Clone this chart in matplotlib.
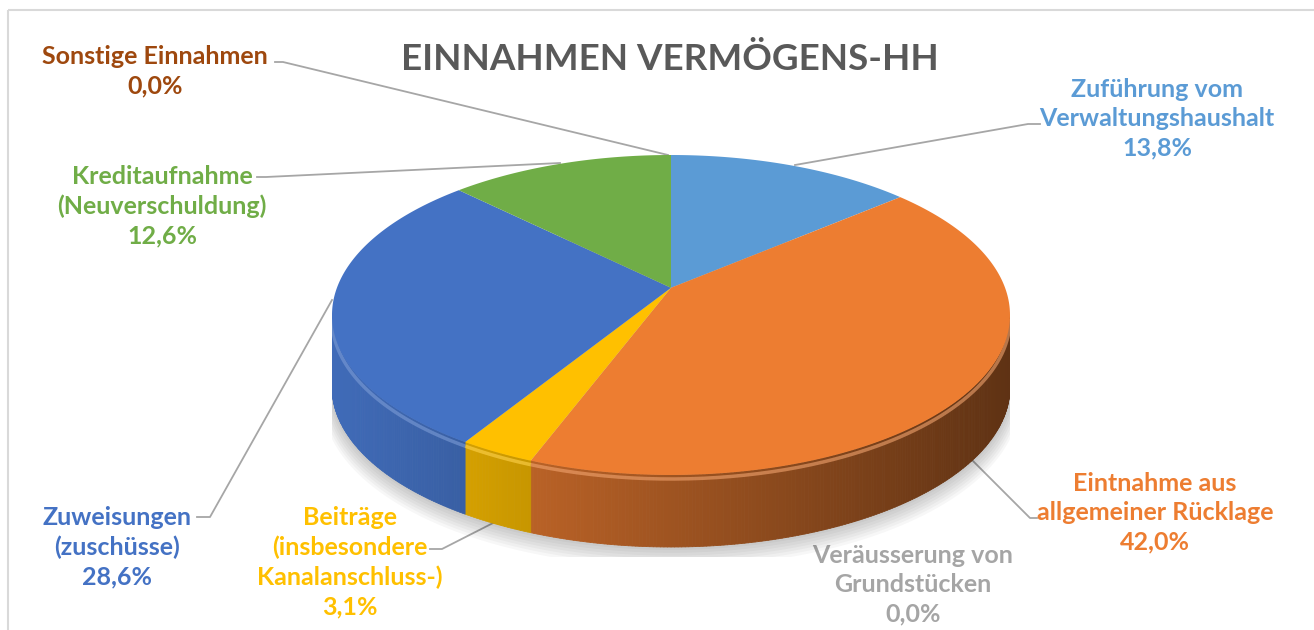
import matplotlib.pyplot as plt
import matplotlib.colors as mcolors
import numpy as np
from matplotlib.collections import PolyCollection
from matplotlib.patches import Rectangle

plt.rcParams['font.family'] = ['Lato', 'DejaVu Sans']

# data (percent of total)
categories = ["Zuführung vom\nVerwaltungshaushalt",
              "Eintnahme aus\nallgemeiner Rücklage",
              "Veräusserung von\nGrundstücken",
              "Beiträge\n(insbesondere\nKanalanschluss-)",
              "Zuweisungen\n(zuschüsse)",
              "Kreditaufnahme\n(Neuverschuldung)",
              "Sonstige Einnahmen"]
values = [13.8, 42.0, 0.0, 3.1, 28.6, 12.6, 0.0]
colors = ["#5B9BD5", "#ED7D31", "#A5A5A5", "#FFC000", "#4472C4", "#70AD47", "#9E480E"]

W, H = 1314, 630
fig = plt.figure(figsize=(W / 100, H / 100), dpi=100)
bg = fig.add_axes([0, 0, 1, 1])
bg.set_xlim(0, W)
bg.set_ylim(H, 0)
bg.axis('off')
bg.add_patch(Rectangle((8, 10), 1320, 640, fill=False, ec='#D9D9D9', lw=1.5))

# pie geometry in pixels: centre, radii, thickness; c = perspective tilt
cx, cy, rx, ry, depth = 671, 315, 339, 160, 72
c = 0.17
d = depth / ry
ax = fig.add_axes([(cx - rx) / W, (H - (cy + ry + depth + 10)) / H, 2 * rx / W, (2 * ry + depth + 10) / H])
ax.set_xlim(-1, 1)
ax.set_ylim(-1 - d - 10 / ry, 1)
ax.axis('off')


def proj(theta):
    # unit circle seen in perspective: centre of pie moves back, circle stays round
    x, y = np.cos(theta), np.sin(theta)
    den = 1 + c * y
    return x * np.sqrt(1 - c * c) / den, (y + c) / den


vals = np.array(values)
bounds = 90 - 360 * np.concatenate([[0], np.cumsum(vals) / vals.sum()])

# soft shadow under the pie
tt = np.linspace(0, 2 * np.pi, 200)
for k in range(1, 8):
    ax.fill(np.cos(tt) * (1 + 0.004 * k), np.sin(tt) * (1 + 0.006 * k) - d - 0.012 * k,
            color='k', alpha=0.03, lw=0, zorder=0)

# side of the pie, darker to the right
alpha = np.degrees(np.arcsin(c))
polys, fcs, rims = [], [], []
for i, col in enumerate(colors):
    lo, hi = max(bounds[i + 1], -180 + alpha), min(bounds[i], -alpha)
    if hi <= lo:
        continue
    t = np.radians(np.linspace(hi, lo, max(int((hi - lo) * 2), 2)))
    px, py = proj(t)
    base = np.array(mcolors.to_rgb(col))
    for j in range(len(t) - 1):
        polys.append([(px[j], py[j]), (px[j + 1], py[j + 1]),
                      (px[j + 1], py[j + 1] - d), (px[j], py[j] - d)])
        f = 0.67 - 0.27 * (px[j] + px[j + 1]) / 2
        fcs.append(np.clip(base * f, 0, 1))
    rims.append((px, py, base + (1 - base) * 0.3))
ax.add_collection(PolyCollection(polys, facecolors=fcs, edgecolors=fcs, linewidths=0.6, zorder=1))
for px, py, rc in rims:
    ax.plot(px, py - 0.025, color=rc, lw=2.5, alpha=0.6, zorder=1.5, solid_capstyle='butt')

# top face
apex = proj(np.array([0.0]))
for i, col in enumerate(colors):
    if values[i] == 0:
        continue
    t = np.radians(np.linspace(bounds[i], bounds[i + 1], 200))
    px, py = proj(t)
    ax.fill(np.concatenate([[0], px]), np.concatenate([[c], py]), color=col, lw=0, zorder=2)

# title
bg.text(670, 60, "EINNAHMEN VERMÖGENS-HH", ha='center', va='center', fontsize=26.5,
        fontweight='bold', color='#595959')

# data labels
pcts = [f"{v:.1f}".replace('.', ',') + "%" for v in values]
label_pos = [(1157, 119), (1155, 513), (913, 585), (350, 562), (117, 547), (162, 206), (155, 71)]
for name, p, col, (x, y) in zip(categories, pcts, colors, label_pos):
    bg.text(x, y, name + "\n" + p, ha='center', va='center', multialignment='center',
            fontsize=18, fontweight='bold', color=col, linespacing=1.33)

# leader lines
leaders = [[(1040, 124), (1028, 124), (795, 165)],
           [(1037, 518), (1030, 518), (970, 458)],
           [(197, 517), (210, 517), (332, 300)],
           [(430, 549), (442, 549), (497, 521)],
           [(257, 177), (266, 177), (560, 163)],
           [(275, 62), (283, 62), (668, 155)]]
for pts in leaders:
    xs, ys = zip(*pts)
    bg.plot(xs, ys, color='#A6A6A6', lw=1.3)

fig.savefig('out.png', dpi=100)
